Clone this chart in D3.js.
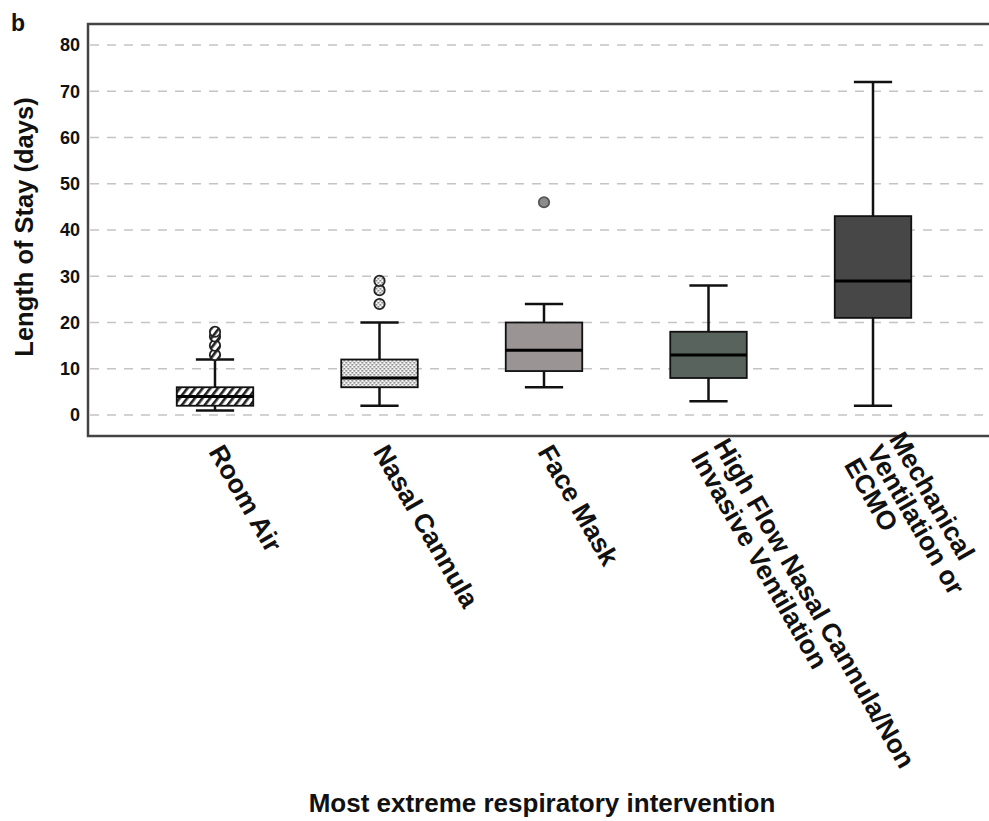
<!DOCTYPE html>
<html lang="en">
<head>
    <meta charset="UTF-8">
    <title>Length of Stay by Respiratory Intervention</title>
    <script src="https://d3js.org/d3.v7.min.js"></script>
    <style>
        body { margin: 0; background: white; }
        svg { display: block; }
        text { font-family: "Liberation Sans", Arial, sans-serif; fill: #111; }
        .grid { stroke: #c4c4c4; stroke-width: 1.6; stroke-dasharray: 9 8; }
        .tick-label { font-size: 18px; font-weight: bold; text-anchor: end; }
        .cat-label { font-size: 26.5px; font-weight: bold; }
        .axis-title { font-size: 26px; font-weight: bold; text-anchor: middle; }
    </style>
</head>
<body>
<svg width="989" height="821"></svg>
<script>
    // data (days)
    const categories = ["Room Air", "Nasal Cannula", "Face Mask", "HFNC/NIV", "MV/ECMO"];
    const labelLines = [
        ["Room Air"],
        ["Nasal Cannula"],
        ["Face Mask"],
        ["High Flow Nasal Cannula/Non", "Invasive Ventilation"],
        ["Mechanical", "Ventilation or", "ECMO"]
    ];
    const whiskerLow  = [1, 2, 6, 3, 2];
    const q1          = [2, 6, 9.5, 8, 21];
    const median      = [4, 8, 14, 13, 29];
    const q3          = [6, 12, 20, 18, 43];
    const whiskerHigh = [12, 20, 24, 28, 72];
    const outliers    = [[13, 15, 17, 18], [24, 27, 29], [46], [], []];
    const fills       = ["url(#hatch)", "url(#dots)", "#9b9494", "#58635e", "#474747"];
    const yTicks      = [0, 10, 20, 30, 40, 50, 60, 70, 80];

    const svg = d3.select("svg");
    const frame = { left: 88, top: 24, bottom: 436, right: 995 };

    const defs = svg.append("defs");
    const hatch = defs.append("pattern").attr("id", "hatch")
        .attr("patternUnits", "userSpaceOnUse").attr("width", 6).attr("height", 6)
        .attr("patternTransform", "rotate(38)");
    hatch.append("rect").attr("width", 6).attr("height", 6).attr("fill", "white");
    hatch.append("rect").attr("width", 2.6).attr("height", 6).attr("fill", "#222");

    const dots = defs.append("pattern").attr("id", "dots")
        .attr("patternUnits", "userSpaceOnUse").attr("width", 4).attr("height", 4);
    dots.append("rect").attr("width", 4).attr("height", 4).attr("fill", "#f4f4f4");
    dots.append("rect").attr("width", 1.6).attr("height", 1.6).attr("fill", "#777");
    dots.append("rect").attr("x", 2).attr("y", 2).attr("width", 1.6).attr("height", 1.6).attr("fill", "#777");

    const y = d3.scaleLinear().domain([0, 80]).range([415, 45]);
    const x = d3.scalePoint().domain(categories).range([frame.left, 1000]).padding(0.772);
    const boxW = x.step() * 0.465;

    // grid lines
    svg.selectAll(".grid").data(yTicks).enter()
        .append("line").attr("class", "grid")
        .attr("x1", frame.left + 2).attr("x2", frame.right)
        .attr("y1", d => y(d)).attr("y2", d => y(d));

    svg.selectAll(".tick-label").data(yTicks).enter()
        .append("text").attr("class", "tick-label")
        .attr("x", 80).attr("y", d => y(d)).attr("dy", "0.36em")
        .text(d => d);

    const boxes = svg.selectAll(".box").data(categories).enter()
        .append("g").attr("class", "box")
        .attr("transform", d => `translate(${x(d)},0)`);

    // whiskers
    boxes.append("line")
        .attr("x1", 0).attr("x2", 0)
        .attr("y1", (d, i) => y(whiskerLow[i])).attr("y2", (d, i) => y(whiskerHigh[i]))
        .attr("stroke", "#111").attr("stroke-width", 2.5);
    [whiskerLow, whiskerHigh].forEach(arr => {
        boxes.append("line")
            .attr("x1", -boxW / 4).attr("x2", boxW / 4)
            .attr("y1", (d, i) => y(arr[i])).attr("y2", (d, i) => y(arr[i]))
            .attr("stroke", "#111").attr("stroke-width", 2.5);
    });

    boxes.append("rect")
        .attr("x", -boxW / 2).attr("width", boxW)
        .attr("y", (d, i) => y(q3[i]))
        .attr("height", (d, i) => y(q1[i]) - y(q3[i]))
        .attr("fill", (d, i) => fills[i])
        .attr("stroke", "#111").attr("stroke-width", 1.8);

    boxes.append("line")
        .attr("x1", -boxW / 2).attr("x2", boxW / 2)
        .attr("y1", (d, i) => y(median[i])).attr("y2", (d, i) => y(median[i]))
        .attr("stroke", "#000").attr("stroke-width", 3);

    boxes.each(function(d, i) {
        d3.select(this).selectAll("circle").data(outliers[i]).enter()
            .append("circle")
            .attr("cx", 0).attr("cy", v => y(v)).attr("r", 5.2)
            .attr("fill", i === 2 ? "#8c8c8c" : fills[i])
            .attr("stroke", i === 2 ? "#555" : "#222").attr("stroke-width", 1.8);
    });

    // frame
    svg.append("rect")
        .attr("x", frame.left).attr("y", frame.top)
        .attr("width", frame.right - frame.left).attr("height", frame.bottom - frame.top)
        .attr("fill", "none").attr("stroke", "#444").attr("stroke-width", 2.5);

    // rotated category labels
    const lh = 26;
    const labels = svg.selectAll(".cat").data(categories).enter()
        .append("g").attr("class", "cat")
        .attr("transform", d => `translate(${x(d) + 1},447) rotate(60)`);
    labels.each(function(d, i) {
        const lines = labelLines[i];
        d3.select(this).selectAll("text").data(lines).enter()
            .append("text").attr("class", "cat-label")
            .attr("x", 0)
            .attr("y", (t, j) => (j - (lines.length - 1) / 2) * lh)
            .attr("dy", "0.35em")
            .text(t => t);
    });

    svg.append("text").attr("class", "axis-title")
        .attr("transform", "translate(33,227) rotate(-90)")
        .style("font-size", "25.5px")
        .text("Length of Stay (days)");

    svg.append("text").attr("class", "axis-title")
        .attr("x", 542).attr("y", 812)
        .text("Most extreme respiratory intervention");

    svg.append("text")
        .attr("x", 11).attr("y", 31)
        .style("font-size", "23px").style("font-weight", "bold")
        .text("b");
</script>
</body>
</html>
